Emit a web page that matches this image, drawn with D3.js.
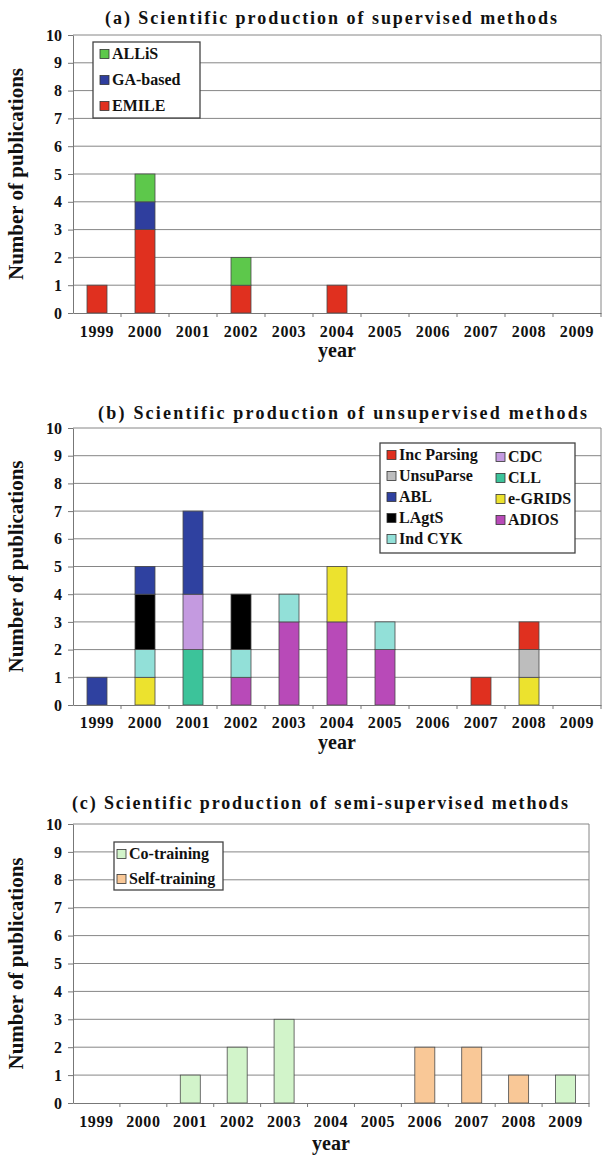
<!DOCTYPE html>
<html>
<head>
<meta charset="utf-8">
<script src="https://cdn.jsdelivr.net/npm/d3@7"></script>
<style>
  body { margin: 0; background: #fff; }
</style>
</head>
<body>
<div id="chart"></div>
<script>
// x categories and y ticks shared by the three panels
var years = ["1999", "2000", "2001", "2002", "2003", "2004", "2005", "2006", "2007", "2008", "2009"];
var yTicks = [0, 1, 2, 3, 4, 5, 6, 7, 8, 9, 10];

// (a) supervised, bottom to top of the stack
var supervisedKeys = ["EMILE", "GA-based", "ALLiS"];
var emile    = [1, 3, 0, 1, 0, 1, 0, 0, 0, 0, 0];
var gaBased  = [0, 1, 0, 0, 0, 0, 0, 0, 0, 0, 0];
var allis    = [0, 1, 0, 1, 0, 0, 0, 0, 0, 0, 0];

// (b) unsupervised, bottom to top of the stack
var unsupervisedKeys = ["ADIOS", "e-GRIDS", "CLL", "CDC", "Ind CYK", "LAgtS", "ABL", "UnsuParse", "Inc Parsing"];
var adios      = [0, 0, 0, 1, 3, 3, 2, 0, 0, 0, 0];
var eGrids     = [0, 1, 0, 0, 0, 2, 0, 0, 0, 1, 0];
var cll        = [0, 0, 2, 0, 0, 0, 0, 0, 0, 0, 0];
var cdc        = [0, 0, 2, 0, 0, 0, 0, 0, 0, 0, 0];
var indCyk     = [0, 1, 0, 1, 1, 0, 1, 0, 0, 0, 0];
var lagts      = [0, 2, 0, 2, 0, 0, 0, 0, 0, 0, 0];
var abl        = [1, 1, 3, 0, 0, 0, 0, 0, 0, 0, 0];
var unsuParse  = [0, 0, 0, 0, 0, 0, 0, 0, 0, 1, 0];
var incParsing = [0, 0, 0, 0, 0, 0, 0, 0, 1, 1, 0];

// (c) semi-supervised
var semiKeys = ["Self-training", "Co-training"];
var coTraining   = [0, 0, 1, 2, 3, 0, 0, 0, 0, 0, 1];
var selfTraining = [0, 0, 0, 0, 0, 0, 0, 2, 2, 1, 0];

var colors = {
  "EMILE": "#e0301f", "GA-based": "#2f3e9e", "ALLiS": "#5dc84b",
  "Inc Parsing": "#e0301f", "UnsuParse": "#bdbdbd", "ABL": "#2f41a0", "LAgtS": "#000000",
  "Ind CYK": "#92e0d8", "CDC": "#c49ae0", "CLL": "#3cc39a", "e-GRIDS": "#ece22e", "ADIOS": "#b84ab8",
  "Co-training": "#d2f4ca", "Self-training": "#f9c897"
};

var SERIF = "'Liberation Serif', 'Times New Roman', serif";

// build row objects for d3.stack
function rows(series) {
  return years.map(function(y, i) {
    var r = { year: y };
    Object.keys(series).forEach(function(k) { r[k] = series[k][i]; });
    return r;
  });
}

// serif bold for every text
function font(sel, size) {
  return sel.style("font-family", SERIF)
    .style("font-weight", "bold").style("font-size", size + "px").attr("fill", "#111");
}

var svg = d3.select("#chart").append("svg")
  .attr("width", 606).attr("height", 1160);

function drawPanel(p) {
  var g = svg.append("g");

  var x = d3.scaleBand().domain(years).range([p.left, p.right]);
  var y = d3.scaleLinear().domain([0, 10]).range([p.bottom, p.top]);
  var barW = 20;

  // title
  font(g.append("text")
    .attr("x", p.titleX).attr("y", p.titleY)
    .attr("textLength", p.titleLen).attr("lengthAdjust", "spacing")
    .text(p.title), 18);

  // grid lines
  g.selectAll(".grid").data(yTicks.slice(1)).enter().append("line")
    .attr("x1", p.left).attr("x2", p.right)
    .attr("y1", function(d) { return y(d); }).attr("y2", function(d) { return y(d); })
    .attr("stroke", "#868686").attr("stroke-width", 1);

  // right border
  g.append("line")
    .attr("x1", p.right).attr("x2", p.right).attr("y1", p.top).attr("y2", p.bottom)
    .attr("stroke", "#868686");

  // y axis
  var yAxis = g.append("g")
    .attr("transform", "translate(" + p.left + ",0)")
    .call(d3.axisLeft(y).tickValues(yTicks).tickSize(5).tickPadding(6).tickSizeOuter(0));
  yAxis.select(".domain").attr("stroke", "#777");
  yAxis.selectAll(".tick line").attr("stroke", "#777");
  font(yAxis.selectAll("text"), 16);

  // stacked bars
  var stack = d3.stack().keys(p.keys)(rows(p.series));
  g.selectAll(".layer").data(stack).enter().append("g")
    .attr("fill", function(d) { return colors[d.key]; })
    .selectAll("rect")
    .data(function(d) { return d.filter(function(s) { return s[1] > s[0]; }); })
    .enter().append("rect")
    .attr("x", function(d) { return x(d.data.year) + (x.bandwidth() - barW) / 2; })
    .attr("width", barW)
    .attr("y", function(d) { return y(d[1]); })
    .attr("height", function(d) { return y(d[0]) - y(d[1]); })
    .attr("stroke", "#4a4a4a").attr("stroke-width", 0.8);

  // x axis: line, boundary ticks, labels
  var xAxis = g.append("g")
    .attr("transform", "translate(0," + p.bottom + ")")
    .call(d3.axisBottom(x).tickSize(0).tickPadding(p.labelPad).tickSizeOuter(0));
  xAxis.select(".domain").attr("stroke", "#777");
  font(xAxis.selectAll("text"), 16).style("letter-spacing", "0.6px");
  g.selectAll(".xtick").data(years.slice(1).concat(["end"])).enter().append("line")
    .attr("x1", function(d) { return d === "end" ? p.right : x(d); })
    .attr("x2", function(d) { return d === "end" ? p.right : x(d); })
    .attr("y1", p.bottom).attr("y2", p.bottom + 4)
    .attr("stroke", "#777");

  // axis titles
  font(g.append("text")
    .attr("x", (p.left + p.right) / 2).attr("y", p.yearY)
    .attr("text-anchor", "middle")
    .text("year"), 20);
  font(g.append("text")
    .attr("transform", "translate(23," + (p.top + p.bottom) / 2 + ") rotate(-90)")
    .attr("text-anchor", "middle")
    .text("Number of publications"), 21);

  // legend
  var L = p.legend;
  g.append("rect")
    .attr("x", L.x).attr("y", L.y).attr("width", L.w).attr("height", L.h)
    .attr("fill", "#fff").attr("stroke", "#444").attr("stroke-width", 1.3);
  var items = g.selectAll(".leg").data(L.items).enter().append("g")
    .attr("transform", function(d, i) {
      var col = Math.floor(i / L.perCol), row = i % L.perCol;
      return "translate(" + L.colX[col] + "," + (L.rowY[col] + row * L.step) + ")";
    });
  items.append("rect")
    .attr("x", 0).attr("y", -4.5).attr("width", 9).attr("height", 9)
    .attr("fill", function(d) { return colors[d]; })
    .attr("stroke", "#333").attr("stroke-width", 0.8);
  font(items.append("text")
    .attr("x", 12).attr("y", 5)
    .text(function(d) { return d; }), 16);
}

drawPanel({
  title: "(a) Scientific production of supervised methods",
  titleX: 105, titleY: 24, titleLen: 452,
  left: 73, right: 601, top: 35, bottom: 313,
  labelPad: 13, yearY: 357,
  keys: supervisedKeys,
  series: { "EMILE": emile, "GA-based": gaBased, "ALLiS": allis },
  legend: { x: 93, y: 42, w: 107, h: 76, perCol: 3, colX: [100], rowY: [54], step: 26,
            items: ["ALLiS", "GA-based", "EMILE"] }
});

drawPanel({
  title: "(b) Scientific production of unsupervised methods",
  titleX: 98, titleY: 419, titleLen: 489,
  left: 73, right: 601, top: 428, bottom: 705,
  labelPad: 12, yearY: 749,
  keys: unsupervisedKeys,
  series: { "ADIOS": adios, "e-GRIDS": eGrids, "CLL": cll, "CDC": cdc, "Ind CYK": indCyk,
            "LAgtS": lagts, "ABL": abl, "UnsuParse": unsuParse, "Inc Parsing": incParsing },
  legend: { x: 380, y: 443, w: 195, h: 110, perCol: 5, colX: [387, 496], rowY: [455, 457], step: 21,
            items: ["Inc Parsing", "UnsuParse", "ABL", "LAgtS", "Ind CYK", "CDC", "CLL", "e-GRIDS", "ADIOS"] }
});

drawPanel({
  title: "(c) Scientific production of semi-supervised methods",
  titleX: 72, titleY: 809, titleLen: 496,
  left: 73, right: 589, top: 824, bottom: 1103,
  labelPad: 13, yearY: 1150,
  keys: semiKeys,
  series: { "Self-training": selfTraining, "Co-training": coTraining },
  legend: { x: 114, y: 842, w: 109, h: 48, perCol: 2, colX: [117], rowY: [854], step: 25,
            items: ["Co-training", "Self-training"] }
});
</script>
</body>
</html>
